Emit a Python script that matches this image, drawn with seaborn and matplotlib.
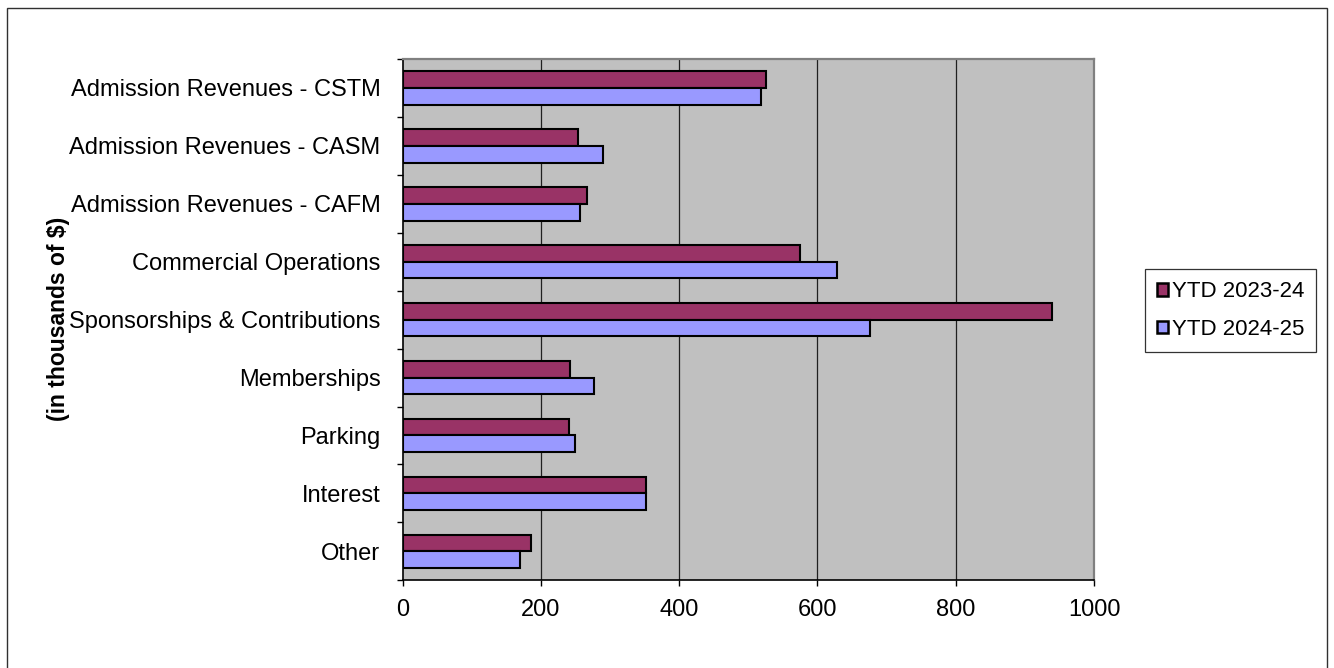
import matplotlib
matplotlib.use("Agg")
import matplotlib.pyplot as plt
import matplotlib.patches as mpatches
import numpy as np
import pandas as pd
import seaborn as sns

categories = [
    "Admission Revenues - CSTM",
    "Admission Revenues - CASM",
    "Admission Revenues - CAFM",
    "Commercial Operations",
    "Sponsorships & Contributions",
    "Memberships",
    "Parking",
    "Interest",
    "Other",
]
series_names = ["YTD 2023-24", "YTD 2024-25"]
ytd_2023_24 = [525, 254, 267, 575, 939, 242, 241, 352, 185]
ytd_2024_25 = [518, 290, 256, 628, 676, 277, 249, 352, 169]
x_ticks = [0, 200, 400, 600, 800, 1000]

colors = ["#993366", "#9999FF"]

df = pd.DataFrame({
    "category": categories * 2,
    "series": [series_names[0]] * len(categories) + [series_names[1]] * len(categories),
    "value": ytd_2023_24 + ytd_2024_25,
})

sns.set_style("white")
plt.rcParams["font.family"] = ["Liberation Sans", "DejaVu Sans"]
plt.rcParams["text.color"] = "black"
plt.rcParams["axes.labelcolor"] = "black"
plt.rcParams["xtick.color"] = "black"
plt.rcParams["ytick.color"] = "black"

W, H = 1334, 668
fig = plt.figure(figsize=(W / 100, H / 100), dpi=100)
ax = fig.add_axes([402.7 / W, 1 - 580.3 / H, 691.3 / W, 521.3 / H])
ax.set_facecolor("#C0C0C0")

sns.barplot(
    data=df, x="value", y="category", hue="series",
    order=categories, hue_order=series_names, palette=colors,
    orient="h", width=0.577, saturation=1, errorbar=None,
    edgecolor="black", linewidth=1.5, ax=ax, zorder=3,
)

ax.set_xlim(0, 1000)
ax.set_ylim(len(categories) - 0.5, -0.5)
ax.set_xticks(x_ticks)
ax.set_xticklabels([str(t) for t in x_ticks])
ax.set_xlabel("")
ax.set_ylabel("(in thousands of $)", fontsize=16.5, fontweight="bold", color="black")
ax.yaxis.set_label_coords(-0.481, 0.502)

# vertical gridlines
ax.grid(False)
for t in x_ticks[1:-1]:
    ax.axvline(t, color="#202020", linewidth=0.9, zorder=1)

# category separators as outward ticks on the left axis
ax.set_yticks(np.arange(len(categories)))
ax.set_yticks(np.arange(-0.5, len(categories)), minor=True)
ax.tick_params(axis="y", which="major", length=0, pad=16, labelsize=17, labelcolor="black")
ax.tick_params(axis="y", which="minor", length=6 * 0.72, width=1, color="black", direction="out", left=True)
ax.tick_params(axis="x", which="major", length=6 * 0.72, width=1, color="black", direction="out",
               bottom=True, pad=9, labelsize=17, labelcolor="black")

for side in ["left", "bottom"]:
    ax.spines[side].set_color("black")
    ax.spines[side].set_linewidth(1.2)
for side in ["top", "right"]:
    ax.spines[side].set_color("#808080")
    ax.spines[side].set_linewidth(1.6)
    ax.spines[side].set_visible(True)

# legend to the right of the plot
handles = [mpatches.Patch(facecolor=c, edgecolor="black", linewidth=1.8) for c in colors]
ax.get_legend().remove()
leg = fig.legend(
    handles, series_names, loc="upper left",
    bbox_to_anchor=(1145 / W, 1 - 269 / H), bbox_transform=fig.transFigure,
    fontsize=16, frameon=True, fancybox=False, shadow=False,
    handlelength=0.5, handleheight=0.5, handletextpad=0.15,
    labelspacing=0.75, borderpad=0.55, borderaxespad=0,
)
leg.get_frame().set_edgecolor("black")
leg.get_frame().set_linewidth(0.9)
for txt in leg.get_texts():
    txt.set_color("black")

# outer chart frame
frame = mpatches.Rectangle((7 / W, -0.01), 1320 / W, 1.01 - 8 / H,
                           transform=fig.transFigure, fill=False,
                           edgecolor="#303030", linewidth=1.0)
fig.patches.append(frame)

fig.savefig("out.png", dpi=100, facecolor="white")
